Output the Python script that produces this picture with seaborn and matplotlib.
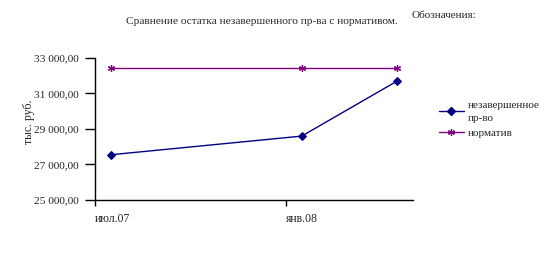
import matplotlib
matplotlib.use("Agg")
import matplotlib.pyplot as plt
import seaborn as sns
import pandas as pd
from matplotlib.lines import Line2D

# Data
periods = ["2007-07", "2008-01", "2008-04"]
wip_values = [27550, 28600, 31700]
norm_values = [32450, 32450, 32450]
series_names = ["незавершенное\nпр-во", "норматив"]
x_tick_labels = ["июл.07", "янв.08"]
y_ticks = [25000, 27000, 29000, 31000, 33000]

sns.set_theme(style="white")
plt.rcParams['font.family'] = ['Liberation Serif', 'DejaVu Serif']

def month_pos(p):
    y, m = map(int, p.split("-"))
    return (y - 2007) * 12 + (m - 7) + 0.5

xs = [month_pos(p) for p in periods]
df_wip = pd.DataFrame({"x": xs, "value": wip_values})
df_norm = pd.DataFrame({"x": xs, "value": norm_values})

fig = plt.figure(figsize=(5.48, 2.64), dpi=100)
ax = fig.add_axes([95/548, 1 - 200/264, 318/548, 142/264])

sns.lineplot(data=df_norm, x="x", y="value", color="#800080", marker=(6, 2, 0),
             markersize=5, linewidth=1.0, markeredgewidth=0.9,
             markeredgecolor="#800080", ax=ax)
sns.lineplot(data=df_wip, x="x", y="value", color="#000080", marker="D",
             markersize=4.5, linewidth=1.0, markeredgecolor="#000080",
             markerfacecolor="#000080", ax=ax)

ax.set_xlim(0, 10)
ax.set_ylim(25000, 33000)
ax.set_xticks([0, 6])
ax.set_xticklabels(x_tick_labels, ha="left")
ax.set_yticks(y_ticks)
ax.set_yticklabels([f"{v:,.2f}".replace(",", " ").replace(".", ",") for v in y_ticks])
ax.tick_params(axis="y", direction="out", length=7, width=1, color="black",
               labelsize=8.2, pad=5, left=True)
ax.tick_params(axis="x", direction="out", length=4, width=1, color="black",
               labelsize=8.5, pad=5, bottom=True)
for s in ["top", "right"]:
    ax.spines[s].set_visible(False)
for s in ["left", "bottom"]:
    ax.spines[s].set_color("black")
    ax.spines[s].set_linewidth(1)
ax.set_xlabel("")
ax.set_ylabel("")
ax.grid(False)

fig.text(29/548, 1 - 122/264, "тыс. руб.", rotation=90, ha="center", va="center",
         fontsize=8.5)
fig.text(262/548, 1 - 22/264, "Сравнение остатка незавершенного пр-ва с нормативом.",
         ha="center", va="center", fontsize=8.2)
fig.text(412/548, 1 - 16/264, "Обозначения:", ha="left", va="center", fontsize=8)

handles = [Line2D([], [], color="#000080", marker="D", markersize=4, lw=1.0),
           Line2D([], [], color="#800080", marker=(6, 2, 0), markersize=5, lw=1.0,
                  markeredgewidth=0.9)]
fig.legend(handles, series_names, loc="upper left", bbox_to_anchor=(433/548, 1 - 95/264),
           frameon=False, fontsize=8, handlelength=2.3, handletextpad=0.3,
           labelspacing=0.45, borderpad=0)
for t in fig.legends[0].get_texts():
    t.set_linespacing(1.6)

fig.savefig("out.png", dpi=100, facecolor="white")
